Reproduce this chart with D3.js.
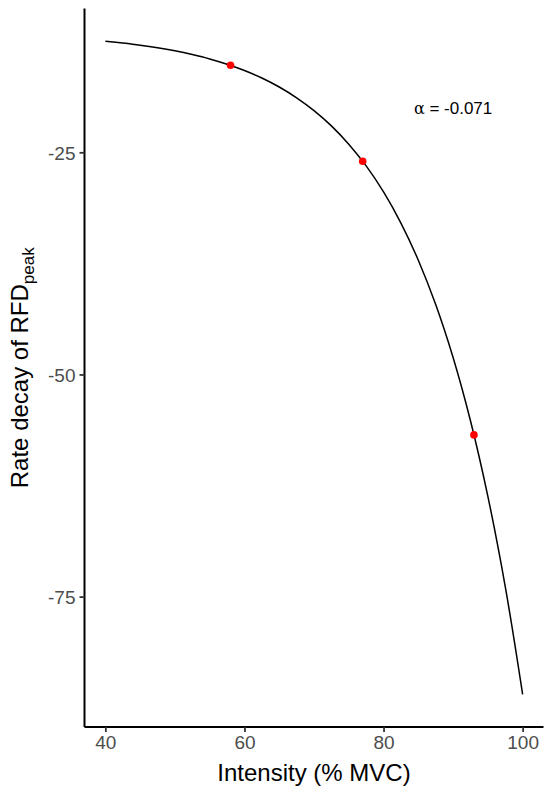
<!DOCTYPE html>
<html>
<head>
<meta charset="utf-8">
<script src="https://cdn.jsdelivr.net/npm/d3@7"></script>
<style>
  html, body { margin: 0; padding: 0; background: #fff; }
  svg { display: block; font-family: "Liberation Sans", Arial, Helvetica, sans-serif; }
</style>
</head>
<body>
<svg id="chart" width="550" height="793"></svg>
<script>
// Fitted curve
const curveX = [40, 42.5, 45, 47.5, 50, 52.5, 55, 57.5, 60, 62.5, 65, 67.5, 70, 72.5, 75, 77.5, 80, 82.5, 85, 87.5, 90, 92.5, 95, 97.5, 100];
const curveY = [-12.49, -12.70, -12.94, -13.23, -13.58, -14.00, -14.49, -15.09, -15.80, -16.64, -17.65, -18.86, -20.30, -22.02, -24.08, -26.53, -29.46, -32.96, -37.14, -42.13, -48.09, -55.21, -63.72, -73.87, -86.00];
// Observed points
const pointX = [58, 77, 93];
const pointY = [-15.2, -26.0, -56.8];
// Ticks
const xTicks = [40, 60, 80, 100];
const yTicks = [-25, -50, -75];
// Annotation
const annX = 90, annY = -20, annLabel = "-0.071";

const svg = d3.select("#chart");
const mLeft = 84.5, mRight = 543.5, mTop = 8.5, mBottom = 727;

const xs = curveX.concat(pointX), ys = curveY.concat(pointY);
const [x0, x1] = d3.extent(xs), [y0, y1] = d3.extent(ys);
const px = (x1 - x0) * 0.05, py = (y1 - y0) * 0.05;
const x = d3.scaleLinear().domain([x0 - px, x1 + px]).range([mLeft, mRight]);
const y = d3.scaleLinear().domain([y0 - py, y1 + py]).range([mBottom, mTop]);

// curve
const line = d3.line().x(d => x(d[0])).y(d => y(d[1])).curve(d3.curveCatmullRom.alpha(0.5));
svg.append("path")
  .datum(curveX.map((v, i) => [v, curveY[i]]))
  .attr("d", line)
  .attr("fill", "none")
  .attr("stroke", "#000")
  .attr("stroke-width", 1.5);

// points
svg.selectAll("circle.pt").data(pointX.map((v, i) => [v, pointY[i]]))
  .enter().append("circle")
  .attr("class", "pt")
  .attr("cx", d => x(d[0])).attr("cy", d => y(d[1]))
  .attr("r", 3.8).attr("fill", "#ff0000");

// axes
const fmt = d => String(d);
const xAxis = d3.axisBottom(x).tickValues(xTicks).tickSize(5).tickPadding(4).tickFormat(fmt);
const gx = svg.append("g").attr("transform", `translate(0,${mBottom})`).call(xAxis);
const yAxis = d3.axisLeft(y).tickValues(yTicks).tickSize(5).tickPadding(4).tickFormat(fmt);
const gy = svg.append("g").attr("transform", `translate(${mLeft},0)`).call(yAxis);

[gx, gy].forEach(g => {
  g.select(".domain").attr("stroke", "#000").attr("stroke-width", 2);
  g.selectAll(".tick line").attr("stroke", "#333").attr("stroke-width", 1.8);
  g.selectAll(".tick text").attr("fill", "#4d4d4d").style("font-size", "19px")
    .style("font-family", '"Liberation Sans", Arial, sans-serif');
});
gx.select(".domain").attr("d", `M${mLeft},0H${mRight}`);
gy.select(".domain").attr("d", `M0,${mTop}V${mBottom}`);
gy.selectAll(".tick text").attr("dy", "0.36em");
gx.selectAll(".tick text").attr("dy", "0.71em");

// axis titles
svg.append("text")
  .attr("x", (mLeft + mRight) / 2).attr("y", 781)
  .attr("text-anchor", "middle")
  .style("font-size", "24px").attr("fill", "#000")
  .text("Intensity (% MVC)");

const yt = svg.append("text")
  .attr("transform", `translate(28,${(mTop + mBottom) / 2}) rotate(-90)`)
  .attr("text-anchor", "middle")
  .style("font-size", "24px").attr("fill", "#000");
yt.append("tspan").text("Rate decay of RFD");
yt.append("tspan").attr("dy", 6).style("font-size", "17px").text("peak");

// annotation
const at = svg.append("text")
  .attr("x", x(annX)).attr("y", y(annY) + 6)
  .attr("text-anchor", "middle")
  .style("font-size", "17px").attr("fill", "#000");
at.append("tspan").style("font-family", '"DejaVu Serif", serif').style("font-size", "16px").text("\u03B1");
at.append("tspan").text(" = " + annLabel);
</script>
</body>
</html>
